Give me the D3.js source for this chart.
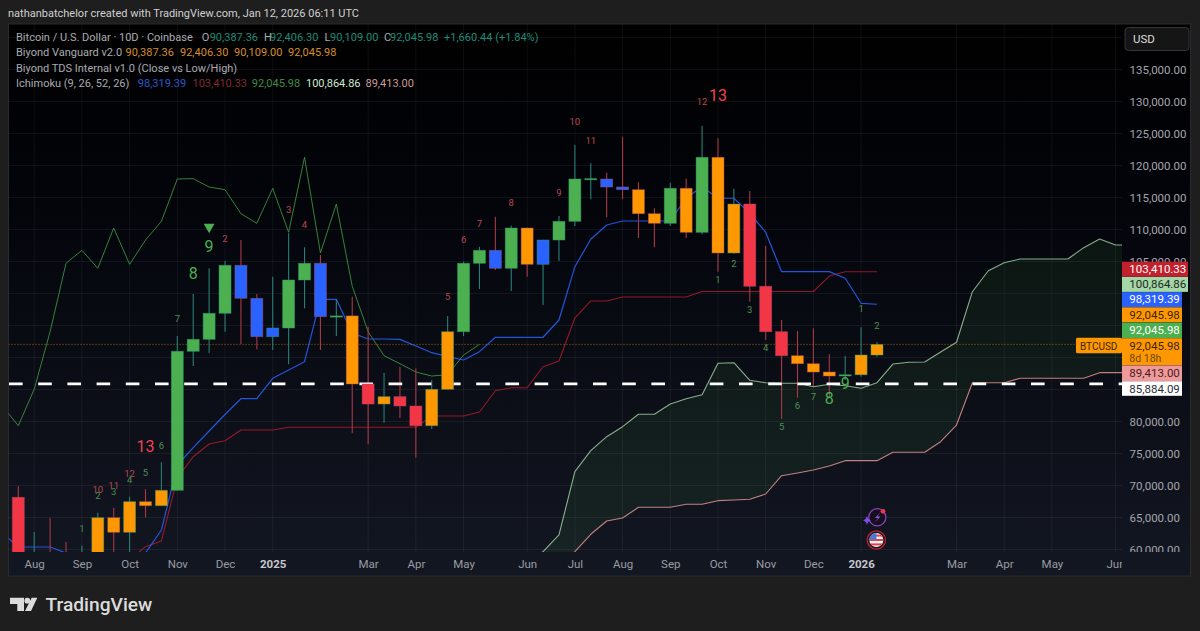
<!DOCTYPE html>
<html><head><meta charset="utf-8">
<script src="https://cdn.jsdelivr.net/npm/d3@7/dist/d3.min.js"></script>
<style>html,body{margin:0;padding:0;background:#1e1e1e;overflow:hidden}svg{display:block}text{font-family:Roboto,sans-serif}</style>
</head><body><svg id="c" width="1200" height="631"></svg>
<script>
// ---------- data (prices in thousands of USD) ----------
const barOpen  = [68.16,55,57.5,57,56.5,58,64.97,62.69,67.47,66.84,69.25,90.97,92.84,96.91,104.41,99.25,93.25,94.61,102.11,104.72,96.38,96.5,85.86,82.73,83.88,82.42,79.34,85.03,94.03,104.72,106.75,103.94,110.23,104.56,108.36,111.28,117.89,117.89,116.64,116.22,112.47,110.97,116.44,109.56,121.28,106.33,113.98,101.13,94.03,90.28,89.03,87.73,87.2,87.3,90.387];
const barClose = [56.8,57.5,57,56.5,58,64.97,62.69,67.47,66.84,69.25,90.97,92.84,96.91,104.41,99.25,93.25,94.61,102.11,104.72,96.38,96.5,85.86,82.73,83.88,82.42,79.34,85.03,94.03,104.72,106.75,103.94,110.23,104.56,108.36,111.28,117.89,117.95,116.64,116.22,112.47,110.97,116.44,109.56,121.28,106.33,113.98,101.13,94.03,90.28,89.03,87.73,87.11,87.3,90.39,92.046];
const barHigh  = [69.92,62.73,64.97,61.17,60.59,65.75,66.53,68.25,69.45,73.63,93.36,99.92,103.94,105.08,108.36,99.92,102.63,109.41,107.22,106.02,99.14,99.5,94.81,87.58,88.56,88.31,86.48,96.48,104.97,107.31,112,110.59,110.3,108.4,112.11,123.2,120.34,118.88,124.5,117.38,113.31,117.31,117.94,126.22,124.25,116.38,116.02,107.47,95.86,94.14,94.56,90.5,90.28,94.72,92.406];
const barLow   = [56,54,55,56,56,57,58,59,65.03,66.8,69.2,88.67,90.66,94.03,92.11,91.28,91.17,88.98,97.69,91.17,93.36,78.16,76.44,79.81,80.55,74.34,78.83,85,93.36,100.7,103.67,100.39,102.63,98.2,105.08,110.55,114.72,111.91,114.72,108.67,107.22,110.55,108.67,109.25,103.41,106.2,98.72,92.73,80.39,83.72,85.55,83.88,86.48,87,90.109];
const barPaint = ["r","g","r","r","g","o","o","o","o","o","g","g","g","g","b","b","b","g","g","b","g","o","r","o","r","r","o","o","g","g","b","g","o","b","g","g","g","b","b","o","o","g","o","g","o","o","r","r","r","o","o","o","g","o","o"];

const tenkanStart = -1;
const tenkan = [62.58,60.39,60.39,60.39,59.45,58.5,57.5,57,57.5,59.45,63.05,73.2,75.92,78.52,81.09,83.56,83.56,86.75,88.05,89.34,99.09,99.09,93.83,92.89,92.89,92.84,91.8,90.75,90.13,89.61,90.91,93.16,93.16,93.16,93.16,95.86,104.19,108.47,110.7,111.33,111.33,111.33,111.33,114.92,116.69,114.88,114.88,112.53,109.56,103.41,103.41,103.41,103.41,102.38,98.47,98.32];
const kijunStart = 7;
const kijun = [58.36,60.44,61.33,71.17,74.5,76.48,77,78.67,78.67,78.67,79.09,79.09,79.09,79.09,79.09,79.09,79.09,79.09,79.09,80.86,80.86,80.86,81.48,84.81,85.28,85.28,88.56,89.45,96.17,98.83,98.83,99.45,99.45,99.45,99.45,99.45,100.31,100.31,100.31,100.31,100.31,100.31,100.31,100.31,102.73,103.41,103.41,103.41];
const chikouStart = -1;
const chikou = [82.42,79.34,85.03,94.03,104.72,106.75,103.94,110.23,104.56,108.36,111.28,117.89,117.95,116.64,116.22,112.47,110.97,116.44,109.56,121.28,106.33,113.98,101.13,94.03,90.28,89.03,87.73,87.11,87.3,90.39,92.05];
const spanStart = 32;
const spanA = [58.36,59.66,62.27,72.16,75.44,77.63,79.19,81.13,81.13,82.73,83.56,84.19,89.09,89.19,86.44,86.06,85.97,85.97,85.44,85.81,85.59,85.19,86.06,88.98,89.25,89.3,90.86,92.38,100.28,103.56,104.81,105.39,105.39,105.39,105.39,107.16,108.52,107.58,107.58];
const spanB = [54,55,56.02,59.66,62.38,64.45,64.92,66.59,66.59,66.59,67.06,67.06,67.63,67.73,67.84,68.67,71.53,71.95,72.42,73.05,73.88,73.88,73.88,75.19,75.19,75.19,76.84,79.45,86.06,86.06,86.06,86.75,86.75,86.75,86.75,86.75,87.63,87.63,87.63];

const gridPrices = [60,65,70,75,80,85,90,95,100,105,110,115,120,125,130,135,140];
const axisPrices = [60,65,70,75,80,105,110,115,120,125,130,135];
const monthIdx   = [1,4,7,10,13,16,22,25,28,32,35,38,41,44,47,50,53,59,62,65,69];
const monthLabel = ["Aug","Sep","Oct","Nov","Dec","2025","Mar","Apr","May","Jun","Jul","Aug","Sep","Oct","Nov","Dec","2026","Mar","Apr","May","Jun"];
const lastClose = 92.04598;
const keyLevel  = 85.88409;

const seqText = ["1","2","10","3","11","4","12","5","6","13","7","8","9","2","3","4","5","6","7","8","9","10","11","12","13","1","2","3","4","5","6","7","8","9","1","2"];
const seqIdx  = [4,5,5,6,6,7,7,8,9,8,10,11,12,13,17,18,27,28,29,31,34,35,36,43,44,44,45,46,47,48,49,50,51,52,53,54];
const seqPrice= [63.2,68.41,69.3,68.98,70.03,70.97,71.8,72.06,76.17,76.06,96.13,103.16,107.31,108.63,113.05,110.81,99.45,108.47,110.86,114.19,115.81,126.91,123.88,129.92,130.91,102.11,104.66,97.53,91.53,79.19,82.47,83.83,83.63,85.97,97.69,94.97];
const seqKind = ["g","g","r","g","r","g","r","g","g","R","g","G","G","r","r","r","r","r","r","r","r","r","r","r","R","g","g","g","g","g","g","g","G","G","g","g"];

const tagText = ["103,410.33","100,864.86","98,319.39","92,045.98","92,045.98","92,045.98","89,413.00","85,884.09"];
const tagFill = ["#c2202c","#a5d6a7","#2962ff","#ff9800","#4caf50","#ff9800","#ef9a9a","#ffffff"];
const tagInk  = ["#ffffff","#1b2a1b","#ffffff","#3a2500","#ffffff","#3a2500","#4a1a1a","#2a2e39"];

const legend = [
 [["Bitcoin / U.S. Dollar · 10D · Coinbase",16,"#a9abb0"],["O",201.7,"#a9abb0"],["90,387.36",209.7,"#1f8a78"],["H",264,"#a9abb0"],["92,406.30",270,"#1f8a78"],["L",324.5,"#a9abb0"],["90,109.00",330,"#1f8a78"],["C",384,"#a9abb0"],["92,045.98",390,"#1f8a78"],["+1,660.44 (+1.84%)",444,"#1f8a78"]],
 [["Biyond Vanguard v2.0",16,"#a9abb0"],["90,387.36",125.5,"#d58c2c"],["92,406.30",180,"#d58c2c"],["90,109.00",234,"#d58c2c"],["92,045.98",288,"#d58c2c"]],
 [["Biyond TDS Internal v1.0 (Close vs Low/High)",16,"#a9abb0"]],
 [["Ichimoku (9, 26, 52, 26)",16,"#a9abb0"],["98,319.39",137.8,"#2c57c8"],["103,410.33",192.5,"#80282e"],["92,045.98",251.8,"#3f8a43"],["100,864.86",306,"#cfe6cf"],["89,413.00",365.5,"#cc9a9a"]]
];

// ---------- layout ----------
const L=8.5,T=24,R=1122,B=552,AR=1190.5,AB=576;
const x=d3.scaleLinear().domain([0,54]).range([18.3,877]);
const y=d3.scaleLinear().domain([60,135]).range([549.5,69.5]);
const fmt=d3.format(",.2f");
const svg=d3.select("#c");
const defs=svg.append("defs");
const gr=defs.append("linearGradient").attr("id","bg").attr("x1",0).attr("x2",0).attr("y1",0).attr("y2",1);
gr.append("stop").attr("offset","0").attr("stop-color","#000");
gr.append("stop").attr("offset","0.3").attr("stop-color","#03040a");
gr.append("stop").attr("offset","1").attr("stop-color","#131722");
defs.append("clipPath").attr("id","pane").append("rect").attr("x",L).attr("y",T).attr("width",R-L).attr("height",B-T);
defs.append("clipPath").attr("id","xclip").append("rect").attr("x",L).attr("y",B).attr("width",R-L).attr("height",AB-B);
defs.append("clipPath").attr("id","yclip").append("rect").attr("x",R).attr("y",T).attr("width",AR-R).attr("height",B-T);

svg.append("rect").attr("width",1200).attr("height",631).attr("fill","#1e1e1e");
svg.append("text").attr("x",8).attr("y",17).attr("fill","#d0d0d0").attr("font-size",11).text("nathanbatchelor created with TradingView.com, Jan 12, 2026 06:11 UTC");
svg.append("rect").attr("x",L).attr("y",T).attr("width",AR-L).attr("height",AB-T).attr("fill","url(#bg)").attr("stroke","#2a2b30");

const pane=svg.append("g").attr("clip-path","url(#pane)");
// grid
pane.append("g").selectAll("line").data(gridPrices).join("line")
  .attr("x1",L).attr("x2",R).attr("y1",d=>y(d)).attr("y2",d=>y(d)).attr("stroke","#fff").attr("stroke-opacity",.055);
pane.append("g").selectAll("line").data(monthIdx).join("line")
  .attr("x1",d=>x(d)).attr("x2",d=>x(d)).attr("y1",T).attr("y2",B).attr("stroke","#fff").attr("stroke-opacity",.055);

// cloud
const cloud=d3.area().x((d,i)=>x(spanStart+i)).y0((d,i)=>y(spanB[i])).y1(d=>y(d));
pane.append("path").attr("d",cloud(spanA)).attr("fill","#43a047").attr("fill-opacity",.1);

// lines
const lineFrom=s=>d3.line().x((d,i)=>x(s+i)).y(d=>y(d));
const addLine=(arr,s,c,o,w)=>pane.append("path").attr("d",lineFrom(s)(arr)).attr("fill","none").attr("stroke",c).attr("stroke-opacity",o).attr("stroke-width",w).attr("stroke-linejoin","round");
addLine(spanA,spanStart,"#a5d6a7",.8,1.1);
addLine(spanB,spanStart,"#ef9a9a",.8,1.1);
addLine(chikou,chikouStart,"#43a047",.8,1);
addLine(kijun,kijunStart,"#b71c2c",.8,1.1);
addLine(tenkan,tenkanStart,"#2962ff",.85,1.2);

// last price line
pane.append("line").attr("x1",L).attr("x2",R).attr("y1",y(lastClose)).attr("y2",y(lastClose)).attr("stroke","#ff9800").attr("stroke-opacity",.6).attr("stroke-dasharray","1 2");

// candles
const idx=d3.range(barOpen.length);
const paint={g:"#4caf50",o:"#ff9800",r:"#f23645",b:"#2962ff"};
const up=i=>barClose[i]>=barOpen[i];
pane.append("g").selectAll("line").data(idx).join("line")
  .attr("x1",x).attr("x2",x).attr("y1",i=>y(barHigh[i])).attr("y2",i=>y(barLow[i]))
  .attr("stroke",i=>up(i)?"#2a7f74":"#a63a46").attr("stroke-width",1.1);
pane.append("line").attr("x1",L+.5).attr("x2",R).attr("y1",y(keyLevel)).attr("y2",y(keyLevel)).attr("stroke","#fff").attr("stroke-width",2.6).attr("stroke-dasharray","13.6 15.6");
const bw=12;
pane.append("g").selectAll("rect").data(idx).join("rect")
  .attr("x",i=>x(i)-bw/2).attr("width",bw)
  .attr("y",i=>y(Math.max(barOpen[i],barClose[i])))
  .attr("height",i=>Math.max(1.2,Math.abs(y(barOpen[i])-y(barClose[i]))))
  .attr("fill",i=>paint[barPaint[i]])
  .attr("stroke",i=>up(i)?"#2a9f74":"#b24a70").attr("stroke-opacity",.55).attr("stroke-width",.8);

// sequence numbers
const seqStyle={g:["#4d8f56",9.5],r:["#b8474f",9.5],G:["#4caf50",16],R:["#f0424e",16]};
pane.append("g").selectAll("text").data(seqText).join("text")
  .attr("x",(d,i)=>x(seqIdx[i])).attr("y",(d,i)=>y(seqPrice[i])).attr("dy","0.36em")
  .attr("text-anchor","middle").attr("fill",(d,i)=>seqStyle[seqKind[i]][0]).attr("font-size",(d,i)=>seqStyle[seqKind[i]][1]).text(d=>d);
pane.append("path").attr("d",d3.symbol().type(d3.symbolTriangle).size(50)())
  .attr("transform",`translate(${x(12)},${y(110.4)}) rotate(180)`).attr("fill","#4caf50");

// price axis
const yAxis=d3.axisRight(y).tickValues(axisPrices).tickSize(0).tickPadding(0).tickFormat(d=>fmt(d*1000));
const ya=svg.append("g").attr("clip-path","url(#yclip)").append("g").attr("transform","translate(1129.5,0)").call(yAxis);
ya.select(".domain").remove();
ya.selectAll("text").attr("fill","#a4a6ac").attr("font-size",11.5).attr("font-family","Roboto,sans-serif");

// time axis
const xAxis=d3.axisBottom(x).tickValues(monthIdx).tickSize(0).tickPadding(0).tickFormat((d,i)=>monthLabel[i]);
const xa=svg.append("g").attr("clip-path","url(#xclip)").append("g").attr("transform",`translate(0,${B+7.5})`).call(xAxis);
xa.select(".domain").remove();
xa.selectAll("text").attr("fill",(d,i)=>/^20/.test(monthLabel[i])?"#c6c7cb":"#9a9ca3").attr("font-weight",(d,i)=>/^20/.test(monthLabel[i])?700:400).attr("font-size",11.5).attr("font-family","Roboto,sans-serif");

// legend
legend.forEach((row,r)=>{
  svg.append("g").selectAll("text").data(row).join("text")
    .attr("x",d=>d[1]).attr("y",[41,56.3,72,87][r]).attr("fill",d=>d[2]).attr("font-size",11).text(d=>d[0]);
});

// USD button
svg.append("rect").attr("x",1125).attr("y",27.5).attr("width",64).attr("height",23).attr("rx",3.5).attr("fill","#151515").attr("stroke","#34353a");
svg.append("text").attr("x",1133).attr("y",43).attr("fill","#dcdcdc").attr("font-size",11.5).text("USD");

// price tags
const tagH=[15,15,15,15,15.5,27,15.6,14.6];
let ty=261.7;
tagText.forEach((t,i)=>{
  const w=i<2?66:60;
  svg.append("rect").attr("x",R).attr("y",ty).attr("width",w).attr("height",tagH[i]).attr("fill",tagFill[i]);
  svg.append("text").attr("x",1129.3).attr("y",ty+11.3).attr("fill",tagInk[i]).attr("font-size",11.5).text(t);
  if(i===5){
    svg.append("text").attr("x",1129.3).attr("y",ty+23.5).attr("fill","#6b4500").attr("font-size",10.5).text("8d 18h");
    svg.append("rect").attr("x",1076).attr("y",ty-.5).attr("width",46).attr("height",15.6).attr("rx",1.5).attr("fill",tagFill[i]);
    svg.append("text").attr("x",1080).attr("y",ty+11.3).attr("fill","#3a2500").attr("font-size",10).text("BTCUSD");
  }
  ty+=tagH[i]+.2;
});

// event icons
const ic=svg.append("g");
ic.append("circle").attr("cx",877.3).attr("cy",517.3).attr("r",8.6).attr("fill","#15101f").attr("stroke","#8e3fb5").attr("stroke-width",1.3);
ic.append("path").attr("d","M880,512.5 L875,518 L878,518 L874.5,522.5 L880.5,516.5 L877.5,516.5 Z").attr("fill","#a14fd0");
ic.append("path").attr("d","M867,516 Q867.7,519.4 871,520.5 Q867.7,521.4 867,525 Q866.2,521.4 863,520.5 Q866.2,519.4 867,516 Z").attr("fill","#7c4df0");
ic.append("circle").attr("cx",883).attr("cy",511.3).attr("r",2.4).attr("fill","#f23645");
ic.append("circle").attr("cx",876.3).attr("cy",540).attr("r",9.2).attr("fill","#1a1a24").attr("stroke","#c2202c").attr("stroke-width",1.2);
defs.append("clipPath").attr("id","flag").append("circle").attr("cx",876.3).attr("cy",540).attr("r",7);
const fl=ic.append("g").attr("clip-path","url(#flag)");
fl.append("rect").attr("x",869).attr("y",533).attr("width",15).attr("height",14).attr("fill","#f4f4f4");
[535.6,540,544.4].forEach(v=>fl.append("rect").attr("x",869).attr("y",v-1).attr("width",15).attr("height",2).attr("fill","#e0424e"));
fl.append("rect").attr("x",869).attr("y",533).attr("width",7.5).attr("height",6.5).attr("fill","#4a78d8");

// brand
const br=svg.append("g").attr("fill","#dcdcdc");
br.append("path").attr("d","M10,597.7 H24 V611 H17.3 V604 H10 Z");
br.append("circle").attr("cx",27.3).attr("cy",600.7).attr("r",2.9);
br.append("path").attr("d","M31.7,597.7 H37.3 L31,611 H25 Z");
br.append("text").attr("x",45.5).attr("y",610.5).attr("font-family","Inter,sans-serif").attr("font-weight",500).attr("font-size",19.2).text("TradingView");
</script></body></html>
